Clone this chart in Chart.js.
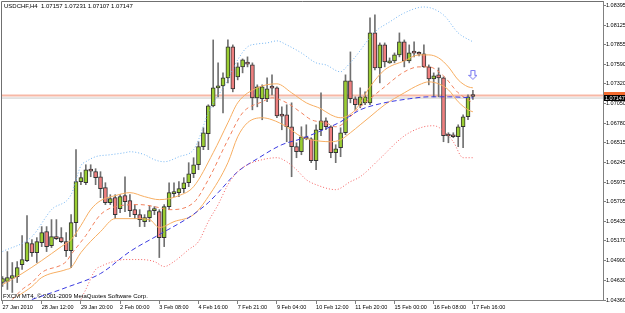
<!DOCTYPE html>
<html><head><meta charset="utf-8">
<script src="https://cdn.jsdelivr.net/npm/chart.js@4.4.1/dist/chart.umd.min.js"></script>
<style>
html,body{margin:0;padding:0;background:#fff;}
#wrap{position:relative;width:625px;height:313px;overflow:hidden;background:#fff;}
canvas{position:absolute;left:0;top:0;}
.txt{position:absolute;font-family:'Liberation Sans',Arial,sans-serif;font-size:6px;line-height:6px;color:#000;white-space:pre;}
</style></head><body>
<div id="wrap">
<canvas id="c" width="625" height="313"></canvas>
<div class="txt" id="title" style="left:4px;top:3px;"></div>
<div class="txt" id="copy" style="left:3px;top:293px;"></div>
</div>
<script>
// ---------- data ----------
const titleText = 'USDCHF,H4  1.07157 1.07231 1.07107 1.07147';
const copyText = 'FXCM MT4, \u00A9 2001-2009 MetaQuotes Software Corp.';

const xTickBars = [0,8,16,24,32,40,48,56,64,72,80,88,96];
const xTickLabels = ['27 Jan 2010','28 Jan 12:00','29 Jan 20:00','2 Feb 00:00','3 Feb 08:00','4 Feb 16:00','7 Feb 21:00','9 Feb 04:00','10 Feb 12:00','11 Feb 20:00','15 Feb 00:00','16 Feb 08:00','17 Feb 16:00'];
const yTickValues = [1.04360,1.04630,1.04900,1.05170,1.05435,1.05705,1.05975,1.06245,1.06515,1.06780,1.07050,1.07320,1.07590,1.07855,1.08125,1.08395];

const opens  = [1.04599,1.04613,1.04654,1.04681,1.04845,1.04900,1.05132,1.05009,1.05146,1.05296,1.05105,1.05228,1.05214,1.05160,1.05037,1.05420,1.05980,1.05966,1.06130,1.06117,1.06048,1.05898,1.05693,1.05761,1.05611,1.05789,1.05720,1.05597,1.05529,1.05433,1.05488,1.05584,1.05570,1.05214,1.05638,1.05816,1.05830,1.05884,1.05966,1.06089,1.06212,1.06459,1.06636,1.07019,1.07265,1.07292,1.07402,1.07826,1.07415,1.07552,1.07593,1.07579,1.07128,1.07115,1.07115,1.07265,1.07265,1.06882,1.06896,1.06732,1.06459,1.06390,1.06595,1.06568,1.06267,1.06691,1.06814,1.06732,1.06377,1.06445,1.06650,1.07361,1.07115,1.07033,1.07060,1.07060,1.08017,1.07538,1.07853,1.07607,1.07634,1.07716,1.07894,1.07634,1.07743,1.07730,1.07730,1.07552,1.07388,1.07443,1.07402,1.06609,1.06623,1.06595,1.06732,1.06869,1.07157];
const highs  = [1.04681,1.05023,1.04873,1.04886,1.05242,1.05515,1.05187,1.05214,1.05365,1.05365,1.05461,1.05461,1.05351,1.05283,1.05529,1.06418,1.06103,1.06212,1.06212,1.06158,1.06117,1.05966,1.05802,1.05802,1.05802,1.06048,1.05802,1.05666,1.05597,1.05529,1.05652,1.05638,1.05597,1.05666,1.05966,1.05966,1.05980,1.06035,1.06240,1.06308,1.06527,1.06718,1.07033,1.07921,1.07607,1.07470,1.07921,1.07853,1.07607,1.07661,1.07689,1.07607,1.07306,1.07306,1.07402,1.07443,1.07279,1.07005,1.07033,1.07060,1.06513,1.06732,1.06759,1.06582,1.06759,1.07197,1.06855,1.06746,1.06486,1.06718,1.07443,1.07757,1.07142,1.07265,1.07210,1.08222,1.08263,1.07880,1.07880,1.07675,1.07743,1.08017,1.07921,1.07853,1.07894,1.07757,1.07853,1.07579,1.07470,1.07538,1.07415,1.06650,1.06650,1.06759,1.06896,1.07169,1.07231];
const lows   = [1.04545,1.04504,1.04463,1.04599,1.04777,1.04886,1.04955,1.04873,1.05091,1.05023,1.05078,1.05187,1.05146,1.04955,1.04804,1.05228,1.05939,1.05939,1.06048,1.05939,1.05761,1.05666,1.05666,1.05474,1.05556,1.05570,1.05502,1.05474,1.05365,1.05365,1.05433,1.05529,1.04941,1.05091,1.05597,1.05775,1.05775,1.05830,1.05912,1.06035,1.06144,1.06418,1.06418,1.07005,1.07142,1.06923,1.07333,1.07210,1.07374,1.07470,1.07552,1.06964,1.07005,1.06828,1.07074,1.07169,1.06855,1.06691,1.06527,1.06048,1.06308,1.06349,1.06554,1.06240,1.06144,1.06609,1.06691,1.06308,1.06240,1.06322,1.06623,1.07060,1.06964,1.06992,1.07033,1.07033,1.07511,1.07333,1.07552,1.07600,1.07607,1.07689,1.07552,1.07607,1.07689,1.07702,1.07545,1.07306,1.07142,1.07142,1.06527,1.06513,1.06582,1.06459,1.06445,1.06828,1.07107];
const closes = [1.04654,1.04668,1.04695,1.04804,1.04914,1.05146,1.05009,1.05160,1.05283,1.05091,1.05228,1.05201,1.05160,1.05037,1.05420,1.05980,1.06035,1.06144,1.06125,1.06035,1.05884,1.05693,1.05748,1.05529,1.05775,1.05707,1.05584,1.05529,1.05461,1.05488,1.05584,1.05590,1.05214,1.05638,1.05830,1.05843,1.05884,1.05966,1.06089,1.06212,1.06459,1.06650,1.07019,1.07265,1.07292,1.07402,1.07826,1.07251,1.07552,1.07648,1.07590,1.07128,1.07279,1.07279,1.07251,1.07260,1.06882,1.06878,1.06732,1.06459,1.06390,1.06595,1.06568,1.06267,1.06691,1.06814,1.06732,1.06377,1.06431,1.06650,1.07361,1.07115,1.07033,1.07142,1.07142,1.08017,1.07538,1.07853,1.07620,1.07634,1.07716,1.07894,1.07634,1.07743,1.07740,1.07725,1.07552,1.07388,1.07429,1.07402,1.06609,1.06605,1.06595,1.06732,1.06869,1.07142,1.07147];

// indicator lines (bar index -> value), read at sample bars
const upperBandBars = [0,6,10,14,16,17,19,22,25,26,29,31,33,36,39,40,42,46,48,50,52,54,56,58,61,64,66,69,70,72,76,79,82,86,90,93,96];
const upperBand     = [1.05023,1.05228,1.05597,1.05802,1.06199,1.06253,1.06322,1.06349,1.06377,1.06390,1.06349,1.06281,1.06253,1.06322,1.06418,1.06554,1.06923,1.07374,1.07648,1.07826,1.07866,1.07880,1.07908,1.07853,1.07743,1.07607,1.07579,1.07484,1.07538,1.07689,1.08031,1.08167,1.08290,1.08372,1.08263,1.08017,1.07894];
const lowerBandBars = [16,17,19,20,22,25,28,31,33,35,38,40,42,44,46,48,50,53,56,58,60,62,64,68,71,73,77,81,83,86,88,90,92,94,96];
const lowerBand     = [1.04367,1.04504,1.04777,1.04818,1.04873,1.04914,1.04914,1.04886,1.04818,1.04886,1.05051,1.05160,1.05433,1.05666,1.05939,1.06117,1.06212,1.06281,1.06308,1.06253,1.06144,1.06007,1.05939,1.05871,1.05980,1.06048,1.06294,1.06554,1.06650,1.06732,1.06746,1.06677,1.06527,1.06308,1.06308];
const slowMaBars = [6,13,20,26,32,38,40,42,44,48,52,57,61,65,69,73,77,83,87,91,96];
const slowMa     = [1.04367,1.04531,1.04722,1.05023,1.05256,1.05488,1.05584,1.05693,1.05830,1.06117,1.06294,1.06486,1.06568,1.06677,1.06800,1.06964,1.07046,1.07115,1.07142,1.07142,1.07128];
const envUpperBars = [0,4,8,12,14,16,18,20,23,26,29,32,36,39,43,46,48,52,56,59,62,65,67,69,72,75,78,82,85,87,89,91,93,95,96];
const envUpper     = [1.04572,1.04722,1.04900,1.05091,1.05187,1.05379,1.05597,1.05720,1.05789,1.05830,1.05775,1.05734,1.05789,1.05912,1.06377,1.06787,1.07060,1.07265,1.07320,1.07197,1.07060,1.06978,1.06896,1.06855,1.06964,1.07279,1.07511,1.07634,1.07716,1.07716,1.07675,1.07552,1.07374,1.07279,1.07265];
const envMidBars = [2,4,6,8,13,14,17,20,23,28,32,34,39,42,46,49,53,55,58,61,63,66,68,73,78,82,85,87,90,93,96];
const envMid     = [1.04367,1.04504,1.04599,1.04736,1.04886,1.04982,1.05242,1.05529,1.05638,1.05666,1.05625,1.05597,1.05693,1.06007,1.06554,1.06923,1.07074,1.07128,1.07060,1.06923,1.06828,1.06787,1.06732,1.07005,1.07279,1.07484,1.07552,1.07552,1.07429,1.07197,1.07060];
const envLowerBars = [3,6,8,13,14,16,20,23,27,30,32,35,39,42,46,48,50,53,55,58,61,63,67,69,71,73,75,78,82,85,87,89,91,93,95,96];
const envLower     = [1.04408,1.04545,1.04668,1.04777,1.04804,1.05009,1.05296,1.05474,1.05474,1.05461,1.05351,1.05433,1.05529,1.05775,1.06240,1.06595,1.06787,1.06855,1.06828,1.06732,1.06595,1.06554,1.06527,1.06554,1.06650,1.06759,1.06869,1.07033,1.07197,1.07306,1.07347,1.07320,1.07238,1.07074,1.06964,1.06937];

const hLinePrice = 1.07160;   // user horizontal line
const bidPrice = 1.07125;     // bid line
const bidLabel = '1.07147';
const arrowBar = 96;
const arrowPrice = 1.07443;

// ---------- chart ----------
document.getElementById('title').textContent = titleText;
document.getElementById('copy').textContent = copyText;

const FONT = "'Liberation Sans', Arial, sans-serif";
Chart.defaults.font.family = FONT;
Chart.defaults.font.size = 5.5;
Chart.defaults.color = '#000';

const X_MIN = -0.306, X_MAX = 122.55;

const pts = (bars, vals) => bars.map((b, k) => ({x: b, y: vals[k]}));
const upColor = '#9ACD32', downColor = '#EE7F7F';

// arrow image
const arrowImg = document.createElement('canvas');
arrowImg.width = 9; arrowImg.height = 10;
(() => {
  const g = arrowImg.getContext('2d');
  g.strokeStyle = '#7070F0'; g.fillStyle = '#fff'; g.lineWidth = 1;
  g.beginPath();
  g.moveTo(2.5,0.5); g.lineTo(6.5,0.5); g.lineTo(6.5,5.5); g.lineTo(8.5,5.5);
  g.lineTo(4.5,9.5); g.lineTo(0.5,5.5); g.lineTo(2.5,5.5); g.closePath();
  g.fill(); g.stroke();
})();

const lineDs = (data, color, dash, order, width) => ({
  type: 'line', data, borderColor: color, borderWidth: width || 1, borderDash: dash,
  pointRadius: 0, tension: 0.4, cubicInterpolationMode: 'monotone', fill: false, order
});

const framePlugin = {
  id: 'frame',
  afterDraw(chart) {
    const {ctx, chartArea: ca, scales} = chart;
    ctx.save();
    ctx.strokeStyle = '#707070'; ctx.lineWidth = 1;
    ctx.beginPath();
    ctx.moveTo(ca.left + 0.5, ca.bottom); ctx.lineTo(ca.left + 0.5, ca.top + 0.5); ctx.lineTo(ca.right, ca.top + 0.5);
    ctx.stroke();
    const y = scales.y;
    const yh = y.getPixelForValue(hLinePrice);
    ctx.fillStyle = '#F26A2E';
    ctx.fillRect(ca.right + 1, Math.round(yh) - 4, 22, 5);
    const yb = y.getPixelForValue(bidPrice);
    ctx.fillStyle = '#000';
    ctx.fillRect(ca.right + 1, Math.round(yb) - 3, 22, 6);
    ctx.fillStyle = '#fff';
    ctx.font = '5.5px ' + FONT;
    ctx.textBaseline = 'middle';
    ctx.textAlign = 'left';
    ctx.fillText(bidLabel, ca.right + 2, Math.round(yb));
    ctx.restore();
  }
};

new Chart(document.getElementById('c'), {
  type: 'bar',
  data: {
    datasets: [
      lineDs(pts(upperBandBars, upperBand), '#72B4F2', [1,2], 1),
      lineDs(pts(lowerBandBars, lowerBand), '#F56060', [1,2], 1),
      lineDs(pts(slowMaBars, slowMa), '#3A3AE0', [5,3], 2),
      lineDs(pts(envUpperBars, envUpper), '#F7AE62', [], 3),
      lineDs(pts(envLowerBars, envLower), '#F7AE62', [], 3),
      lineDs(pts(envMidBars, envMid), '#F2825E', [4,3], 2),
      {
        type: 'scatter', data: [{x: arrowBar, y: arrowPrice}], pointStyle: arrowImg,
        pointRadius: 5, order: 0
      },
      {
        type: 'bar', data: opens.map((o, i) => ({x: i, y: [opens[i], closes[i]]})),
        backgroundColor: opens.map((o, i) => closes[i] >= o ? upColor : downColor),
        borderColor: '#333', borderWidth: 1, borderSkipped: false,
        barThickness: 4, minBarLength: 2, grouped: false, order: 9
      },
      {
        type: 'bar', data: opens.map((o, i) => ({x: i, y: [lows[i], highs[i]]})),
        backgroundColor: '#707070', borderWidth: 0, barThickness: 1, grouped: false, order: 10
      },
      lineDs([{x: X_MIN, y: hLinePrice}, {x: X_MAX, y: hLinePrice}], '#F7B8A6', [], 11, 2),
      lineDs([{x: X_MIN, y: bidPrice}, {x: X_MAX, y: bidPrice}], '#C8C8C8', [], 12)
    ]
  },
  options: {
    responsive: false, animation: false, devicePixelRatio: 1,
    layout: {autoPadding: false, padding: {left: 1, top: 1, right: 0, bottom: 0}},
    plugins: {legend: {display: false}, tooltip: {enabled: false}, title: {display: false}},
    scales: {
      x: {
        type: 'linear', position: 'bottom', min: X_MIN, max: X_MAX, bounds: 'data', offset: false,
        afterBuildTicks: ax => { ax.ticks = xTickBars.map(v => ({value: v})); },
        afterFit: ax => { ax.height = 13; ax.paddingLeft = 0; ax.paddingRight = 0; },
        ticks: {
          autoSkip: false, maxRotation: 0, align: 'start', padding: 0,
          callback: v => { const k = xTickBars.indexOf(v); return k >= 0 ? xTickLabels[k] : ''; }
        },
        grid: {drawOnChartArea: false, drawTicks: true, tickLength: 4, color: '#808080', offset: false},
        border: {display: true, color: '#808080'}
      },
      y: {
        type: 'linear', position: 'right', min: 1.0436, max: 1.08454, bounds: 'data',
        afterBuildTicks: ax => { ax.ticks = yTickValues.map(v => ({value: v})); },
        afterFit: ax => { ax.width = 22; ax.paddingTop = 0; ax.paddingBottom = 0; },
        ticks: {padding: 0, callback: v => Number(v).toFixed(5)},
        grid: {drawOnChartArea: false, drawTicks: true, tickLength: 3, color: '#808080'},
        border: {display: true, color: '#808080'}
      }
    }
  },
  plugins: [framePlugin]
});
</script>
</body></html>
